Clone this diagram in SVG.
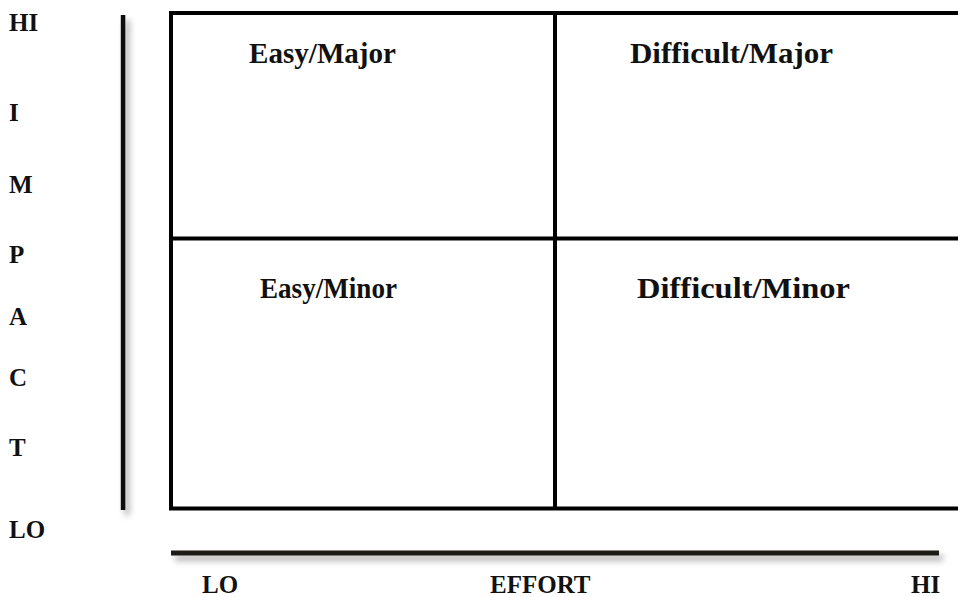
<svg xmlns="http://www.w3.org/2000/svg" width="958" height="597" viewBox="0 0 958 597">
  <defs>
    <filter id="shadow" filterUnits="userSpaceOnUse" x="0" y="0" width="958" height="597">
      <feDropShadow dx="4" dy="5" stdDeviation="3" flood-color="#000" flood-opacity="0.35"/>
    </filter>
  </defs>
  <style>
    .lbl { font-family: "Liberation Serif", "Times New Roman", serif; font-weight: bold; fill: #111; }
    .q { font-size: 30px; }
    .ax { font-size: 25px; }
    .grid { fill: none; stroke: #000; stroke-width: 4; }
  </style>
  <rect width="958" height="597" fill="#fff"/>
  <g id="grid">
    <path class="grid" d="M962 13 H171 V508.5 H962 M171 238.5 H962 M555 13 V508.5"/>
  </g>
  <g id="axes">
    <rect x="120.8" y="15" width="4.5" height="495" fill="#111" filter="url(#shadow)"/>
    <rect x="171" y="550.5" width="768" height="5" fill="#1e1b16" filter="url(#shadow)"/>
  </g>
  <g id="q-easy-major"><text class="lbl q" x="249" y="63" textLength="147" lengthAdjust="spacingAndGlyphs">Easy/Major</text></g>
  <g id="q-difficult-major"><text class="lbl q" x="630" y="63" textLength="203" lengthAdjust="spacingAndGlyphs">Difficult/Major</text></g>
  <g id="q-easy-minor"><text class="lbl q" x="260" y="298" textLength="137" lengthAdjust="spacingAndGlyphs">Easy/Minor</text></g>
  <g id="q-difficult-minor"><text class="lbl q" x="637" y="298" textLength="213" lengthAdjust="spacingAndGlyphs">Difficult/Minor</text></g>
  <g id="impact-axis-labels">
    <text class="lbl ax" x="9" y="30.5">HI</text>
    <text class="lbl ax" x="9" y="121">I</text>
    <text class="lbl ax" x="9" y="193">M</text>
    <text class="lbl ax" x="9" y="263">P</text>
    <text class="lbl ax" x="9" y="325">A</text>
    <text class="lbl ax" x="9" y="386">C</text>
    <text class="lbl ax" x="9" y="456">T</text>
    <text class="lbl ax" x="9" y="538">LO</text>
  </g>
  <g id="effort-axis-labels">
    <text class="lbl ax" x="202" y="593">LO</text>
    <text class="lbl ax" x="490" y="593">EFFORT</text>
    <text class="lbl ax" x="911" y="593">HI</text>
  </g>
</svg>
